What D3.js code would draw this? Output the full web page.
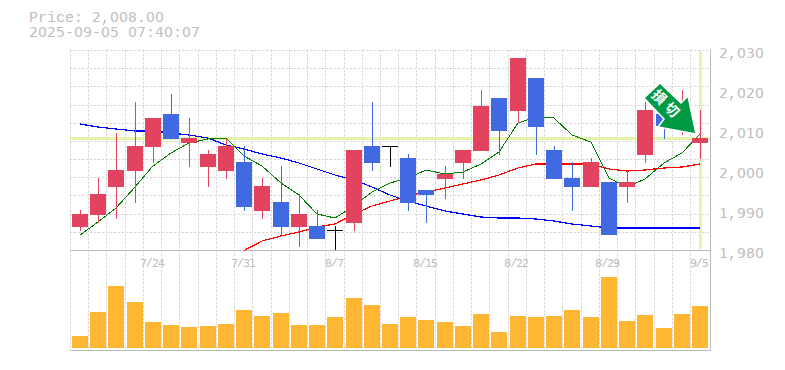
<html>
  <head>
    <meta charset="utf-8" />
    <script src="https://d3js.org/d3.v7.min.js"></script>
    <style>
      /* plain zero instead of the dotted one in Liberation Mono */
      @font-face {
        font-family: "PlainDigits";
        src: local("DejaVu Sans");
        unicode-range: U+30-39;
        size-adjust: 93%;
      }
      body {
        margin: 0;
        background: #fff;
      }
      text {
        font-family: "PlainDigits", "Liberation Mono", monospace;
        fill: #bebebe;
      }
      .gridlines line {
        stroke: #d8d8d8;
        stroke-dasharray: 2.5 1.5;
      }
      .axis .domain,
      .axis line {
        stroke: none;
      }
    </style>
  </head>

  <body>
    <svg id="chart" width="785" height="370"></svg>

    <script>
      const dates = [
        "7/17", "7/18", "7/22", "7/23", "7/24", "7/25", "7/28", "7/29", "7/30", "7/31",
        "8/1", "8/4", "8/5", "8/6", "8/7", "8/8", "8/12", "8/13", "8/14", "8/15",
        "8/18", "8/19", "8/20", "8/21", "8/22", "8/25", "8/26", "8/27", "8/28", "8/29",
        "9/1", "9/2", "9/3", "9/4", "9/5",
      ];
      const dateTicks = ["7/24", "7/31", "8/7", "8/15", "8/22", "8/29", "9/5"];
      const priceTicks = [2030, 2020, 2010, 2000, 1990, 1980];

      const openPrice = [
        1985.75, 1988.75, 1995.75, 1999.75, 2005.75, 2014, 2006.75, 2000.75, 1999.75, 2002,
        1989.75, 1992, 1985.75, 1986, 1985, 1986.75, 2006, 2006, 2003, 1995,
        1997.75, 2001.75, 2004.75, 2018, 2014.75, 2023, 2005, 1998, 1995.75, 1997,
        1995.75, 2003.75, 2014, 2012, 2006.75,
      ];
      const closePrice = [
        1989, 1994, 2000, 2006, 2013, 2007.75, 2008, 2004, 2006, 1990.75,
        1996, 1985.75, 1989, 1982.75, 1985, 2005, 2001.75, 2006, 1991.75, 1993.75,
        1999, 2005, 2016, 2009.75, 2028, 2010.75, 1997.75, 1995.75, 2002, 1983.75,
        1997, 2015, 2011, 2015, 2008,
      ];
      const highPrice = [
        1990, 1998, 2009.25, 2017, 2013, 2019, 2013, 2005, 2007.75, 2006,
        1998, 2001, 1994, 1990, 1986, 2005, 2017, 2006, 2004, 1995,
        2001, 2005, 2020, 2018, 2028, 2023, 2006, 2002, 2003, 1997,
        2000, 2017, 2014, 2020, 2015,
      ];
      const lowPrice = [
        1984.75, 1986.75, 1987.75, 1991.75, 2001.75, 2007.75, 2000.75, 1995.75, 1997.75, 1989.75,
        1987.75, 1983.75, 1980.75, 1982.75, 1980, 1984.75, 1999.75, 2000.75, 1989.75, 1986.75,
        1992.75, 1997.75, 2004.75, 2003.75, 2011.75, 2003.75, 1997.75, 1989.75, 1995.75, 1983.75,
        1991.75, 2001.75, 2007.75, 2008.75, 2002.75,
      ];

      const maShort = [
        1983.75, 1987, 1990.5, 1995.75, 2001, 2004.25, 2006.75, 2007.75, 2008, 2003.5,
        2001, 1996.75, 1993.75, 1989, 1988, 1991, 1994.5, 1996.75, 1998, 2000,
        1999, 1999.5, 2001.5, 2004.5, 2011.75, 2013.25, 2013, 2008.75, 2007, 1998,
        1995.75, 1997.75, 2001.75, 2004.25, 2009,
      ];
      const maMiddle = [
        null, null, null, null, null, null, null, null, null, 1979.875,
        1982.25, 1983.5, 1984.5, 1985.75, 1986.5, 1989, 1991, 1992.25, 1993.5, 1994.5,
        1995.5, 1996.5, 1997.5, 1998.75, 2000.5, 2001.5, 2001.5, 2001.5, 2001.5, 2000.25,
        1999.75, 2000, 2000.5, 2000.75, 2001.5,
      ];
      const maLong = [
        2011.5, 2010.75, 2010.25, 2009.75, 2009.75, 2009.25, 2008.75, 2008, 2006.25, 2005.25,
        2004, 2003, 2001.75, 2000.25, 1998.75, 1997.5, 1995.75, 1993.75, 1992.25, 1991,
        1989.75, 1989, 1988.25, 1988, 1988, 1987.75, 1987.25, 1986.5, 1986, 1985.5,
        1985.5, 1985.5, 1985.5, 1985.5, 1985.5,
      ];

      const volume = [
        1200, 3600, 6200, 4600, 2600, 2300, 2100, 2200, 2400, 3800,
        3200, 3500, 2300, 2300, 3100, 5000, 4300, 2400, 3100, 2800,
        2600, 2200, 3400, 1600, 3200, 3100, 3200, 3800, 3100, 7100,
        2700, 3300, 2000, 3400, 4200,
      ];

      const lastPrice = 2008;
      const priceText = "Price: 2,008.00";
      const timeText = "2025-09-05 07:40:07";
      const signalText = "損切";

      const RED = "#e2435f";
      const BLUE = "#4169e1";
      const HIGHLIGHT = "#e4f5a9";

      const svg = d3.select("svg#chart");

      const plotLeft = 70;
      const plotRight = 710;
      const plotTop = 50;
      const priceBottom = 250;
      const volBottom = 350;
      const barWidth = 16;
      const slotWidth = 18.235;

      const xScale = d3
        .scaleBand()
        .domain(d3.range(dates.length))
        .range([plotLeft, plotLeft + slotWidth * dates.length]);
      const yScale = d3.scaleLinear().domain([1980, 2030]).range([priceBottom, plotTop]);
      const volScale = d3
        .scaleLinear()
        .domain([0, d3.max(volume)])
        .range([volBottom - 2, volBottom - 73]);

      // candles snap to whole pixels like the original
      const barLeft = (i) => Math.round(xScale(i) + 2);
      const barCentre = (i) => barLeft(i) + 8;

      // the labels sit in fixed cells, whatever font each glyph comes from
      const cellXs = (str, cell, start) =>
        Array.from(str, (c, k) => start + k * cell).join(" ");
      const cellText = (sel, cell, centred) =>
        sel.each(function () {
          const str = d3.select(this).text();
          const start = centred ? (-(str.length - 1) * cell) / 2 : cell / 2;
          d3.select(this)
            .attr("text-anchor", "middle")
            .attr("x", cellXs(str, cell, start));
        });

      // gridlines
      const grid = svg.append("g").attr("class", "gridlines");
      grid
        .selectAll("line.v")
        .data(d3.range(dates.length))
        .join("line")
        .attr("class", "v")
        .attr("x1", (i) => Math.round(xScale(i)) + 0.5)
        .attr("x2", (i) => Math.round(xScale(i)) + 0.5)
        .attr("y1", plotTop)
        .attr("y2", volBottom);
      grid
        .selectAll("line.h")
        .data(d3.range(11))
        .join("line")
        .attr("class", "h")
        .attr("x1", plotLeft)
        .attr("x2", plotRight)
        .attr("y1", (k) => Math.round(plotTop + (k * (priceBottom - plotTop)) / 11) + 0.5)
        .attr("y2", (k) => Math.round(plotTop + (k * (priceBottom - plotTop)) / 11) + 0.5);

      // frame
      const frame = svg.append("g").attr("stroke", "#bbb").attr("fill", "none");
      frame.append("line").attr("x1", plotLeft).attr("x2", plotRight).attr("y1", priceBottom + 0.5).attr("y2", priceBottom + 0.5);
      frame.append("line").attr("x1", plotLeft).attr("x2", plotRight + 1).attr("y1", volBottom + 0.5).attr("y2", volBottom + 0.5);
      frame.append("line").attr("x1", plotRight + 0.5).attr("x2", plotRight + 0.5).attr("y1", plotTop).attr("y2", volBottom);

      // current price highlight
      const priceY = Math.round(yScale(lastPrice));
      svg
        .append("rect")
        .attr("x", plotLeft)
        .attr("y", priceY - 1)
        .attr("width", plotRight - plotLeft)
        .attr("height", 3)
        .attr("fill", HIGHLIGHT);
      svg
        .append("rect")
        .attr("x", barCentre(dates.length - 1) - 1)
        .attr("y", plotTop + 1)
        .attr("width", 3)
        .attr("height", priceBottom - plotTop - 2)
        .attr("fill", HIGHLIGHT);

      // moving averages
      const line = d3
        .line()
        .defined((d) => d != null)
        .x((d, i) => barCentre(i))
        .y((d) => yScale(d));

      [
        [maLong, "#0000ff", 1.2],
        [maMiddle, "#ff0000", 1.2],
        [maShort, "#008000", 1],
      ].forEach(([values, color, w]) => {
        svg
          .append("path")
          .attr("d", line(values))
          .attr("fill", "none")
          .attr("stroke", color)
          .attr("stroke-width", w)
          .attr("shape-rendering", "crispEdges");
      });

      // candles
      const candleColor = (i) =>
        closePrice[i] > openPrice[i] ? RED : closePrice[i] < openPrice[i] ? BLUE : "#000";

      svg
        .append("g")
        .selectAll("rect")
        .data(d3.range(dates.length))
        .join("rect")
        .attr("x", barCentre)
        .attr("y", (i) => yScale(highPrice[i]))
        .attr("width", 1)
        .attr("height", (i) => yScale(lowPrice[i]) - yScale(highPrice[i]))
        .attr("fill", candleColor);

      svg
        .append("g")
        .selectAll("rect")
        .data(d3.range(dates.length))
        .join("rect")
        .attr("x", barLeft)
        .attr("y", (i) => yScale(Math.max(openPrice[i], closePrice[i])))
        .attr("width", barWidth)
        .attr("height", (i) => Math.max(1, Math.abs(yScale(openPrice[i]) - yScale(closePrice[i]))))
        .attr("fill", candleColor);

      // volume
      svg
        .append("g")
        .selectAll("rect")
        .data(volume)
        .join("rect")
        .attr("x", (d, i) => barLeft(i))
        .attr("y", (d) => volScale(d))
        .attr("width", barWidth)
        .attr("height", (d) => volScale(0) - volScale(d))
        .attr("fill", "#ffb733");

      // axes
      const yAxis = d3
        .axisRight(yScale)
        .tickValues(priceTicks)
        .tickSize(0)
        .tickPadding(0)
        .tickFormat(d3.format(","));
      const yG = svg
        .append("g")
        .attr("class", "axis")
        .attr("transform", `translate(719,0)`)
        .call(yAxis);
      yG.selectAll("text")
        .attr("dy", 7.5)
        .style("font-size", "15px")
        .call(cellText, 9, false);

      const xAxis = d3
        .axisBottom(xScale)
        .tickValues(dateTicks.map((d) => dates.indexOf(d)))
        .tickSize(0)
        .tickPadding(0)
        .tickFormat((i) => dates[i]);
      const xG = svg
        .append("g")
        .attr("class", "axis")
        .attr("transform", `translate(0,${priceBottom})`)
        .call(xAxis);
      xG.selectAll("text")
        .attr("y", 0)
        .attr("dy", 16.5)
        .style("font-size", "12px")
        .call(cellText, 6, true);

      // header
      [
        [priceText, 22],
        [timeText, 37],
      ].forEach(([str, y]) => {
        svg
          .append("g")
          .attr("transform", "translate(29,0)")
          .append("text")
          .attr("y", y)
          .style("font-size", "15px")
          .text(str)
          .call(cellText, 9, false);
      });

      // signal arrow, shape drawn relative to its tip beside the last candle
      const tipX = barCentre(dates.length - 1) - 4;
      const tipY = yScale(lastPrice) - 4;
      const arrowShape = [
        [-36, -51],
        [-52, -36],
        [-32, -15],
        [-38, -7],
        [0, 0],
        [-8, -38],
        [-15, -31],
      ];
      const arrow = svg.append("g").attr("transform", `translate(${tipX},${tipY})`);
      arrow
        .append("polygon")
        .attr("points", arrowShape.map((p) => p.join(",")).join(" "))
        .attr("fill", "#009944")
        .attr("stroke", "#fff")
        .attr("stroke-width", 1.5);
      arrow
        .append("text")
        .attr("transform", "translate(-29,-29) rotate(45)")
        .attr("text-anchor", "middle")
        .attr("dy", 5)
        .style("font-family", '"Noto Sans CJK JP"')
        .style("font-size", "14px")
        .style("font-weight", "bold")
        .style("letter-spacing", "4px")
        .style("fill", "#fff")
        .text(signalText);
    </script>
  </body>
</html>
